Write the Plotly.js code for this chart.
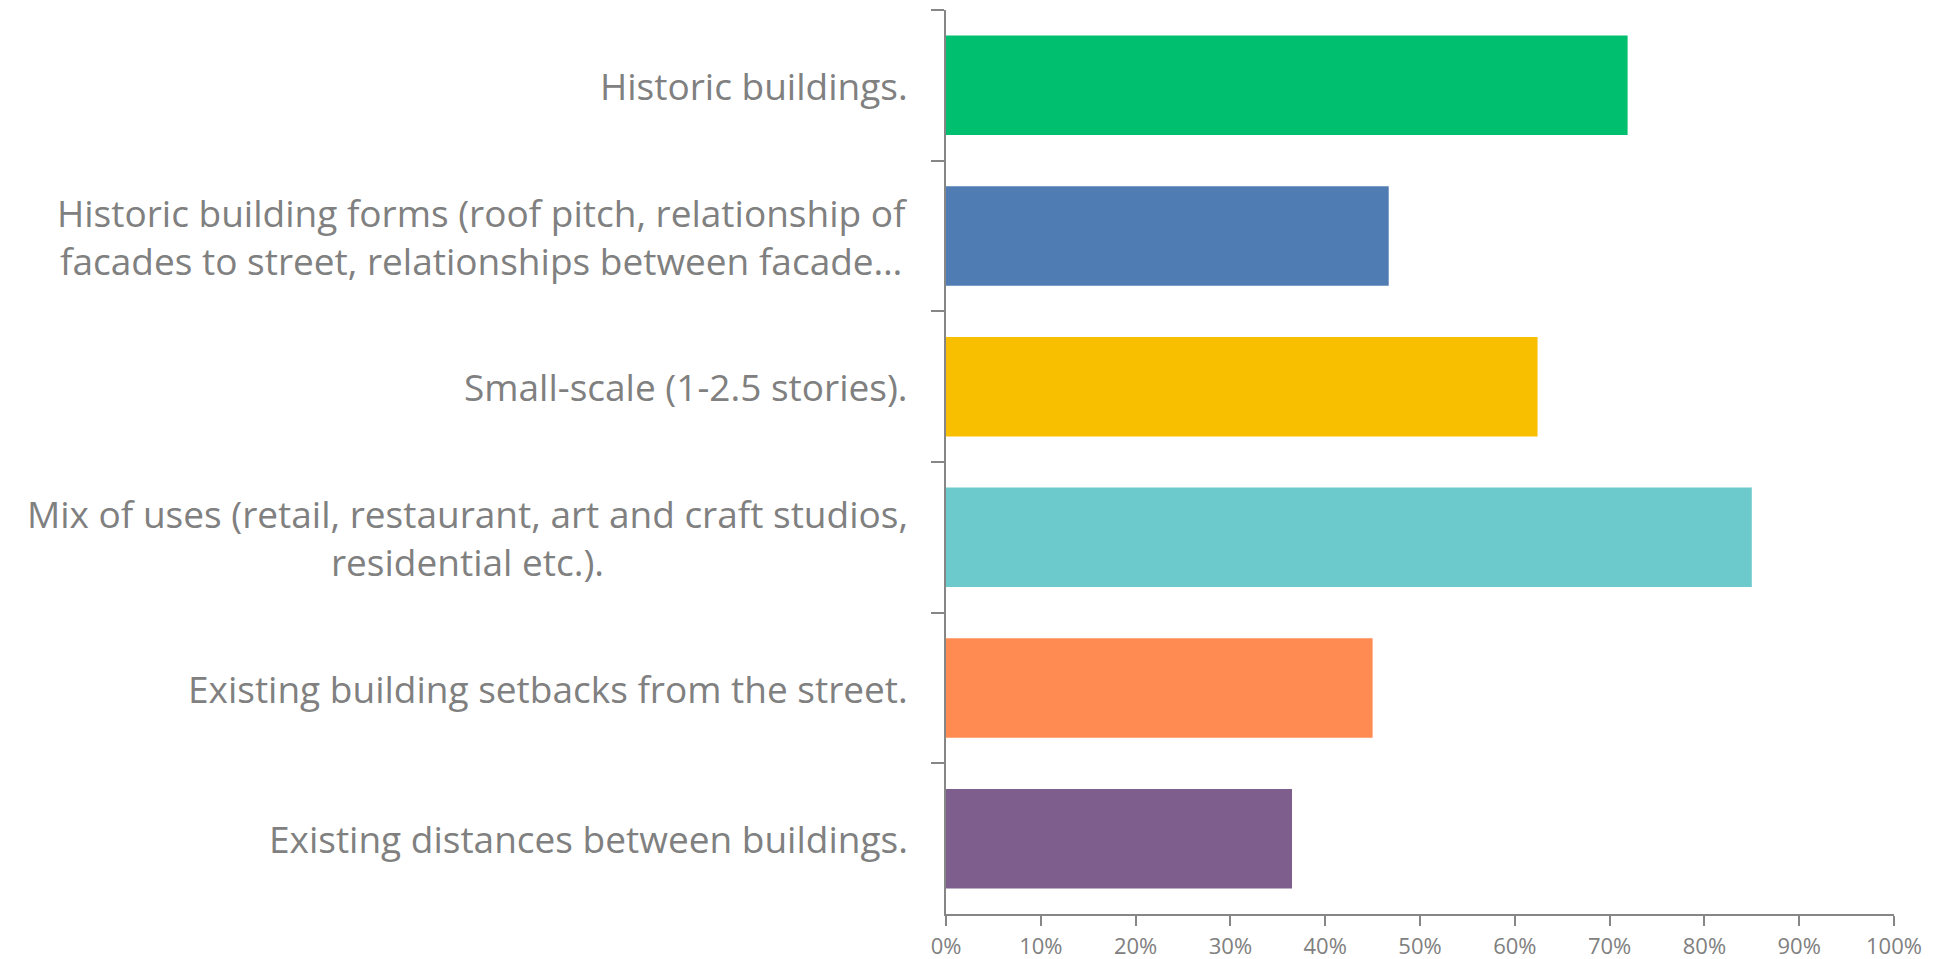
<!DOCTYPE html>
<html>
<head>
<meta charset="utf-8">
<script src="https://cdn.plot.ly/plotly-3.0.1.min.js"></script>
<style>html,body{margin:0;padding:0;background:#fff;}#chart{width:1944px;height:959px;}</style>
</head>
<body>
<div id="chart"></div>
<script>
const categories = [
  "Historic buildings.",
  "Historic building forms (roof pitch, relationship of<br>facades to street, relationships between facade…",
  "Small-scale (1-2.5 stories).",
  "Mix of uses (retail, restaurant, art and craft studios,<br>residential etc.).",
  "Existing building setbacks from the street.",
  "Existing distances between buildings."
];
const values = [0.719, 0.467, 0.624, 0.850, 0.450, 0.365];
const barColors = ["#00BF6F", "#507CB4", "#F8BF00", "#6CC9CC", "#FF8B52", "#7D5E8C"];
const tickVals = [0, 0.1, 0.2, 0.3, 0.4, 0.5, 0.6, 0.7, 0.8, 0.9, 1.0];
const tickText = ["0%", "10%", "20%", "30%", "40%", "50%", "60%", "70%", "80%", "90%", "100%"];

const grey = "#808080";
const trace = {
  type: "bar",
  orientation: "h",
  x: values,
  y: categories,
  marker: { color: barColors },
  hoverinfo: "none"
};

const annotations = categories.map(c => ({
  xref: "paper", yref: "y", x: 0, y: c,
  xanchor: "right", yanchor: "middle", xshift: -36,
  text: c, showarrow: false, align: "center",
  font: { family: "'Open Sans', sans-serif", size: 37, color: grey }
}));

const layout = {
  width: 1944, height: 959,
  margin: { l: 946, r: 50, t: 10, b: 45 },
  paper_bgcolor: "#fff", plot_bgcolor: "#fff",
  showlegend: false,
  bargap: 0.34,
  xaxis: {
    range: [0, 1], tickvals: tickVals, ticktext: tickText,
    showgrid: false, zeroline: false, showline: true,
    linecolor: "#868686", linewidth: 2,
    ticks: "outside", ticklen: 10, tickcolor: "#868686", tickwidth: 2,
    tickfont: { family: "'Open Sans', sans-serif", size: 22, color: grey },
    ticklabelstandoff: 2, fixedrange: true
  },
  yaxis: {
    type: "category", autorange: "reversed",
    showticklabels: false, showgrid: false, zeroline: false,
    showline: true, linecolor: "#868686", linewidth: 2,
    ticks: "outside", tickson: "boundaries", ticklen: 13,
    tickcolor: "#868686", tickwidth: 2, fixedrange: true
  },
  annotations: annotations
};

Plotly.newPlot("chart", [trace], layout, { displayModeBar: false, staticPlot: true });
</script>
</body>
</html>
